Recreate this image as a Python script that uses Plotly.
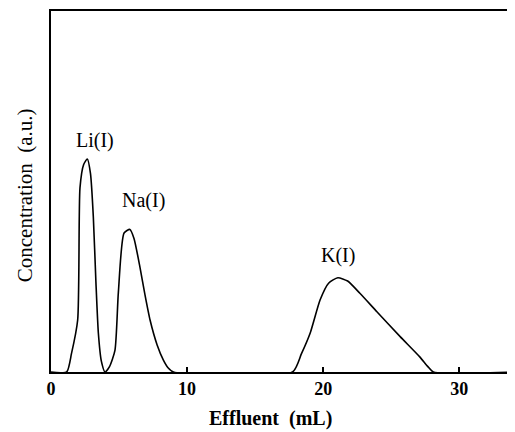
import plotly.graph_objects as go

# Effluent volume (mL) and concentration (a.u.)
li_x = [0.0, 1.15, 1.5, 1.96, 2.13, 2.4, 2.67, 2.9, 3.11, 3.3, 3.48, 3.7, 3.97]
li_y = [0.0, 0.0, 0.05, 0.144, 0.51, 0.575, 0.59, 0.55, 0.43, 0.25, 0.108, 0.03, 0.0]

na_x = [3.97, 4.3, 4.7, 4.95, 5.37, 5.8, 6.1, 6.54, 6.9, 7.28, 7.8, 8.26, 8.6, 9.0, 17.75]
na_y = [0.0, 0.015, 0.06, 0.22, 0.385, 0.395, 0.37, 0.29, 0.215, 0.144, 0.075, 0.033, 0.012, 0.0, 0.0]

k_x = [17.75, 18.4, 19.05, 19.78, 20.4, 21.08, 21.8, 22.7, 23.95, 25.66, 27.1, 27.7, 28.1, 34.1]
k_y = [0.0, 0.05, 0.108, 0.2, 0.246, 0.261, 0.252, 0.218, 0.167, 0.098, 0.042, 0.015, 0.0, 0.0]

peak_labels = ["Li(I)", "Na(I)", "K(I)"]
label_x = [3.2, 6.8, 21.1]
label_y = [0.64, 0.476, 0.324]

x_ticks = [0, 10, 20, 30]

serif = "Liberation Serif, Times New Roman, serif"

fig = go.Figure()
fig.add_trace(go.Scatter(
    x=li_x + na_x[1:] + k_x[1:],
    y=li_y + na_y[1:] + k_y[1:],
    mode="lines",
    line=dict(color="black", width=1.6, shape="spline", smoothing=0.6),
    hoverinfo="skip",
    showlegend=False,
))

for t, x, y in zip(peak_labels, label_x, label_y):
    fig.add_annotation(x=x, y=y, text=t, showarrow=False,
                       font=dict(family=serif, size=20, color="black"))

# axis titles as paper annotations
fig.add_annotation(xref="paper", yref="paper", x=0.474, y=-0.13,
                   text="<b>Effluent  (mL)</b>", showarrow=False,
                   xanchor="center", yanchor="middle",
                   font=dict(family=serif, size=20, color="black"))
fig.add_annotation(xref="paper", yref="paper", x=-0.086, y=0.49,
                   text="Concentration  (a.u.)", showarrow=False, textangle=-90,
                   xanchor="left", yanchor="middle",
                   font=dict(family=serif, size=21, color="black"))

fig.update_layout(
    width=507, height=424,
    margin=dict(l=43, r=0, t=3, b=60),
    paper_bgcolor="white", plot_bgcolor="white",
    showlegend=False,
)
fig.update_xaxes(
    range=[0, 34.1], tickvals=x_ticks, ticktext=[str(v) for v in x_ticks],
    ticks="inside", ticklen=5, tickwidth=1.5, tickcolor="black",
    showline=True, linecolor="black", linewidth=1.5, mirror=True,
    showgrid=False, zeroline=False,
    tickfont=dict(family=serif, size=18, color="black", weight="bold"),
)
fig.update_yaxes(
    range=[0, 1], showticklabels=False, ticks="",
    showline=True, linecolor="black", linewidth=1.5,
    showgrid=False, zeroline=False,
)

fig.write_html("out.html")
